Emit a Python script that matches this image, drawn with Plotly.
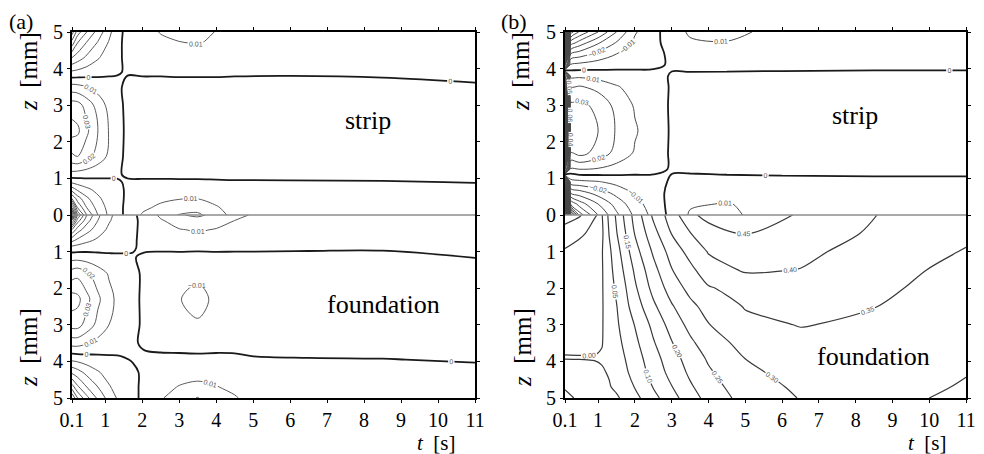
import plotly.graph_objects as go

# ---------------- data ----------------
# Panel (a) - strip (z from 0 to 5 mm)
A_S_T = [0.1, 0.25, 0.5, 0.8, 1.1, 1.3, 1.6, 2.0, 2.5, 3.0, 3.5, 4.0, 4.5, 6.0, 8.5, 11.0]
A_S_Z = [0, 0.2, 0.45, 0.7, 0.9, 1.1, 1.6, 2.3, 3.0, 3.5, 3.9, 4.3, 4.7, 5.0]
A_S_V = [
    [-0.14, -0.07, -0.04, -0.02, -0.008, -0.003, 0.002, 0.011, 0.016, 0.0205, 0.022, 0.014, 0.007, 0.003, 0.002, 0.002],
    [-0.09, -0.05, -0.03, -0.016, -0.007, -0.003, 0.002, 0.008, 0.012, 0.015, 0.016, 0.011, 0.006, 0.003, 0.002, 0.002],
    [-0.05, -0.035, -0.022, -0.012, -0.005, -0.002, 0.001, 0.005, 0.008, 0.0095, 0.0098, 0.007, 0.004, 0.002, 0.0015, 0.0015],
    [-0.025, -0.018, -0.012, -0.007, -0.003, -0.001, 0.0005, 0.002, 0.004, 0.004, 0.004, 0.003, 0.002, 0.0012, 0.001, 0.0008],
    [-0.008, -0.006, -0.004, -0.002, -0.001, -0.0003, 0.0003, 0.0006, 0.0008, 0.0008, 0.0008, 0.0006, 0.0004, 0.0003, 0.0002, -0.0001],
    [0.006, 0.005, 0.004, 0.002, 0.001, 0.0003, -0.0003, -0.0008, -0.001, -0.0012, -0.0012, -0.0012, -0.0011, -0.001, -0.001, -0.0012],
    [0.028, 0.03, 0.024, 0.016, 0.008, 0.003, -0.002, -0.003, -0.004, -0.005, -0.005, -0.005, -0.005, -0.004, -0.004, -0.004],
    [0.044, 0.042, 0.032, 0.02, 0.0095, 0.004, -0.002, -0.004, -0.005, -0.007, -0.0085, -0.007, -0.006, -0.005, -0.005, -0.005],
    [0.035, 0.034, 0.026, 0.016, 0.007, 0.003, -0.002, -0.003, -0.004, -0.005, -0.006, -0.005, -0.004, -0.004, -0.004, -0.004],
    [0.014, 0.013, 0.01, 0.006, 0.003, 0.001, -0.001, -0.0015, -0.002, -0.002, -0.002, -0.002, -0.002, -0.0015, -0.0012, -0.0005],
    [-0.008, -0.007, -0.005, -0.003, -0.0012, -0.0003, 0.0003, 0.0006, 0.0008, 0.001, 0.001, 0.001, 0.0008, 0.0005, 0.0007, 0.0012],
    [-0.03, -0.025, -0.018, -0.011, -0.005, -0.001, 0.001, 0.003, 0.005, 0.006, 0.006, 0.005, 0.004, 0.002, 0.002, 0.002],
    [-0.055, -0.04, -0.029, -0.019, -0.009, -0.002, 0.002, 0.005, 0.008, 0.0095, 0.0105, 0.0085, 0.006, 0.003, 0.002, 0.002],
    [-0.075, -0.055, -0.04, -0.026, -0.013, -0.004, 0.003, 0.006, 0.0105, 0.013, 0.014, 0.0095, 0.007, 0.004, 0.003, 0.003],
]

# Panel (a) - foundation (z from 0 down to -5 mm)
A_F_T = [0.1, 0.25, 0.5, 0.8, 1.1, 1.4, 1.75, 2.05, 2.5, 3.0, 3.5, 4.0, 4.5, 5.0, 6.5, 8.5, 11.0]
A_F_Z = [0, -0.15, -0.4, -0.7, -0.9, -1.15, -1.6, -2.3, -3.0, -3.5, -3.95, -4.3, -4.7, -5.0]
A_F_V = [
    [-0.14, -0.07, -0.04, -0.022, -0.012, -0.006, -0.0015, 0.003, 0.012, 0.019, 0.022, 0.017, 0.013, 0.009, 0.004, 0.002, 0.002],
    [-0.09, -0.055, -0.034, -0.02, -0.011, -0.005, -0.0015, 0.002, 0.009, 0.0145, 0.016, 0.0135, 0.01, 0.007, 0.003, 0.002, 0.0015],
    [-0.05, -0.035, -0.024, -0.015, -0.008, -0.004, -0.001, 0.0015, 0.006, 0.0095, 0.011, 0.0095, 0.007, 0.005, 0.002, 0.0015, 0.001],
    [-0.022, -0.017, -0.012, -0.008, -0.0045, -0.0025, -0.0005, 0.001, 0.003, 0.005, 0.006, 0.005, 0.004, 0.003, 0.0015, 0.001, 0.001],
    [-0.006, -0.005, -0.004, -0.003, -0.002, -0.0012, -0.0002, 0.0005, 0.001, 0.0015, 0.0015, 0.0015, 0.0012, 0.001, 0.0006, 0.0005, 0.0004],
    [0.006, 0.006, 0.005, 0.003, 0.0015, 0.0008, 0.0002, -0.0005, -0.0015, -0.002, -0.0025, -0.002, -0.0018, -0.0015, -0.0012, -0.0012, 0.0001],
    [0.025, 0.027, 0.022, 0.015, 0.009, 0.005, 0.0015, -0.001, -0.004, -0.0065, -0.009, -0.0075, -0.005, -0.004, -0.003, -0.003, -0.002],
    [0.045, 0.043, 0.033, 0.022, 0.013, 0.0065, 0.002, -0.0015, -0.006, -0.0098, -0.0115, -0.009, -0.007, -0.006, -0.005, -0.004, -0.004],
    [0.034, 0.034, 0.026, 0.017, 0.01, 0.005, 0.0015, -0.001, -0.005, -0.008, -0.0095, -0.008, -0.006, -0.005, -0.004, -0.004, -0.004],
    [0.014, 0.014, 0.011, 0.007, 0.004, 0.002, 0.0005, -0.0006, -0.002, -0.003, -0.0035, -0.003, -0.0025, -0.002, -0.0018, -0.0018, -0.002],
    [-0.008, -0.007, -0.005, -0.003, -0.0015, -0.0006, 0.0003, 0.0008, 0.0015, 0.002, 0.002, 0.002, 0.0015, 0.0005, 0.0002, 0.0001, -0.0003],
    [-0.028, -0.024, -0.017, -0.011, -0.006, -0.003, -0.0008, 0.0008, 0.004, 0.006, 0.007, 0.006, 0.004, 0.002, 0.001, 0.001, 0.001],
    [-0.055, -0.042, -0.03, -0.02, -0.011, -0.005, -0.0015, 0.0015, 0.007, 0.0105, 0.012, 0.0105, 0.0075, 0.0045, 0.002, 0.0015, 0.0015],
    [-0.08, -0.06, -0.043, -0.028, -0.016, -0.007, -0.002, 0.002, 0.009, 0.015, 0.0205, 0.014, 0.011, 0.006, 0.0025, 0.002, 0.002],
]

# Panel (b) - strip
B_S_T = [0.1, 0.25, 0.5, 1.0, 1.5, 2.0, 2.5, 3.0, 3.5, 4.5, 6.0, 8.5, 11.0]
B_S_Z = [0, 0.3, 0.6, 0.9, 1.25, 1.7, 2.3, 3.0, 3.5, 3.8, 4.1, 4.4, 4.7, 5.0]
B_S_V = [
    [-0.6, -0.13, -0.075, -0.05, -0.032, -0.018, -0.007, 0.003, 0.011, 0.012, 0.005, 0.005, 0.005],
    [-0.45, -0.07, -0.055, -0.04, -0.026, -0.014, -0.005, 0.003, 0.009, 0.0105, 0.006, 0.004, 0.004],
    [-0.3, -0.04, -0.035, -0.026, -0.017, -0.009, -0.003, 0.002, 0.006, 0.006, 0.004, 0.003, 0.003],
    [-0.15, -0.015, -0.013, -0.011, -0.007, -0.004, -0.0015, 0.0005, 0.002, 0.002, 0.0015, 0.0012, 0.0012],
    [0.1, 0.008, 0.01, 0.009, 0.006, 0.003, 0.001, -0.0003, -0.001, -0.0015, -0.0015, -0.0015, -0.0015],
    [0.25, 0.03, 0.034, 0.026, 0.017, 0.009, 0.004, -0.001, -0.003, -0.005, -0.005, -0.005, -0.005],
    [0.3, 0.038, 0.036, 0.03, 0.019, 0.011, 0.005, -0.001, -0.004, -0.006, -0.006, -0.006, -0.006],
    [0.25, 0.032, 0.033, 0.027, 0.017, 0.009, 0.004, -0.001, -0.003, -0.004, -0.004, -0.004, -0.004],
    [0.15, 0.02, 0.021, 0.017, 0.011, 0.006, 0.0025, -0.0005, -0.0015, -0.002, -0.002, -0.002, -0.002],
    [0.08, 0.008, 0.008, 0.006, 0.004, 0.002, 0.0008, -0.0002, -0.0006, -0.0008, -0.0008, -0.0008, -0.0008],
    [-0.08, -0.008, -0.007, -0.005, -0.003, -0.0015, -0.0005, 0.0003, 0.001, 0.0012, 0.001, 0.0008, 0.0008],
    [-0.2, -0.03, -0.025, -0.017, -0.01, -0.005, -0.0015, 0.001, 0.003, 0.0035, 0.003, 0.002, 0.002],
    [-0.35, -0.055, -0.045, -0.031, -0.019, -0.008, -0.002, 0.003, 0.0085, 0.0095, 0.006, 0.004, 0.004],
    [-0.5, -0.085, -0.068, -0.05, -0.03, -0.011, -0.003, 0.005, 0.0115, 0.0125, 0.007, 0.005, 0.005],
]

# Panel (b) - foundation
B_F_T = [0.1, 0.5, 0.9, 1.1, 1.3, 1.5, 1.75, 2.0, 2.5, 3.0, 3.5, 4.0, 5.0, 6.5, 8.5, 11.0]
B_F_Z = [0, -0.5, -1, -1.5, -2, -2.5, -3, -3.5, -3.9, -4.3, -4.7, -5]
B_F_V = [
    [0.08, 0.055, 0.002, -0.004, 0.062, 0.108, 0.165, 0.218, 0.309, 0.375, 0.44, 0.465, 0.48, 0.445, 0.401, 0.37],
    [0.02, 0.005, -0.008, -0.01, 0.052, 0.097, 0.15, 0.203, 0.282, 0.352, 0.398, 0.43, 0.451, 0.43, 0.393, 0.36],
    [-0.004, -0.012, -0.012, -0.004, 0.04, 0.08, 0.13, 0.18, 0.257, 0.32, 0.367, 0.403, 0.42, 0.41, 0.383, 0.347],
    [-0.015, -0.018, -0.015, -0.005, 0.035, 0.068, 0.113, 0.158, 0.234, 0.298, 0.337, 0.38, 0.405, 0.399, 0.37, 0.335],
    [-0.018, -0.02, -0.016, -0.005, 0.03, 0.058, 0.098, 0.142, 0.215, 0.272, 0.315, 0.345, 0.372, 0.382, 0.362, 0.325],
    [-0.018, -0.02, -0.016, -0.005, 0.026, 0.048, 0.087, 0.123, 0.19, 0.245, 0.287, 0.318, 0.353, 0.366, 0.351, 0.318],
    [-0.015, -0.017, -0.014, -0.004, 0.022, 0.042, 0.074, 0.102, 0.163, 0.22, 0.264, 0.298, 0.337, 0.352, 0.342, 0.31],
    [-0.008, -0.01, -0.009, -0.002, 0.017, 0.034, 0.062, 0.088, 0.145, 0.197, 0.24, 0.275, 0.317, 0.337, 0.333, 0.306],
    [0.002, 0.002, 0.002, 0.004, 0.014, 0.028, 0.052, 0.077, 0.13, 0.18, 0.222, 0.257, 0.301, 0.325, 0.325, 0.302],
    [-0.02, -0.015, -0.008, -0.004, 0.003, 0.02, 0.043, 0.068, 0.118, 0.167, 0.209, 0.243, 0.291, 0.316, 0.318, 0.301],
    [-0.045, -0.03, -0.014, -0.008, -0.003, 0.008, 0.03, 0.052, 0.102, 0.148, 0.193, 0.228, 0.279, 0.308, 0.31, 0.298],
    [-0.065, -0.04, -0.02, -0.012, -0.007, -0.006, 0.012, 0.035, 0.085, 0.13, 0.18, 0.215, 0.27, 0.302, 0.306, 0.296],
]

X_TICKS = [0.1, 1, 2, 3, 4, 5, 6, 7, 8, 9, 10, 11]
X_TICK_TEXT = ["0.1", "1", "2", "3", "4", "5", "6", "7", "8", "9", "10", "11"]
Y_TICKS = [-5, -4, -3, -2, -1, 0, 1, 2, 3, 4, 5]
Y_TICK_TEXT = ["5", "4", "3", "2", "1", "0", "1", "2", "3", "4", "5"]

# ---------------- figure ----------------
W, H = 984, 454
SERIF = "Liberation Serif"

fig = go.Figure()


def contour(t, z, v, xa, ya, start, end, step, color, width, fmt, labels=True):
    fig.add_trace(go.Contour(
        x=t, y=z, z=v, xaxis=xa, yaxis=ya,
        autocontour=False,
        colorscale=[[0, color], [1, color]],
        contours=dict(start=start, end=end, size=step, coloring="none",
                      showlabels=labels,
                      labelfont=dict(family="Liberation Sans", size=7, color="#555555"),
                      labelformat=fmt),
        line=dict(color=color, width=width, smoothing=1.0),
        showscale=False, hoverinfo="skip",
    ))


# panel (a)
for t, z, v in [(A_S_T, A_S_Z, A_S_V), (A_F_T, A_F_Z, A_F_V)]:
    contour(t, z, v, "x", "y", -0.15, -0.01, 0.01, "#5a5a5a", 1.0, ".2~f")
    contour(t, z, v, "x", "y", 0.01, 0.15, 0.01, "#5a5a5a", 1.0, ".2~f")
    contour(t, z, v, "x", "y", 0.0, 0.0, 0.01, "#1a1a1a", 1.8, ".2~f")

# panel (b)
contour(B_S_T, B_S_Z, B_S_V, "x2", "y2", -0.6, -0.01, 0.01, "#4a4a4a", 1.0, ".2f")
contour(B_S_T, B_S_Z, B_S_V, "x2", "y2", 0.01, 0.3, 0.01, "#4a4a4a", 1.0, ".2f")
contour(B_S_T, B_S_Z, B_S_V, "x2", "y2", 0.0, 0.0, 0.01, "#1a1a1a", 1.8, ".2~f")
contour(B_F_T, B_F_Z, B_F_V, "x2", "y2", -0.05, 0.45, 0.05, "#3a3a3a", 1.2, ".2f")


def px_x(p):
    return p / W


def px_y(p):
    return 1 - p / H


axis_common = dict(
    showgrid=False, zeroline=False, showline=True, linewidth=2, linecolor="black",
    mirror="ticks", ticks="outside", ticklen=3, tickwidth=1, tickcolor="black",
    tickfont=dict(family=SERIF, size=20, color="black"), automargin=False,
)
ydom = [px_y(398), px_y(32)]
fig.update_layout(
    width=W, height=H, autosize=False,
    margin=dict(l=0, r=0, t=0, b=0, pad=0, autoexpand=False),
    font=dict(family=SERIF, color="black"),
    paper_bgcolor="white", plot_bgcolor="white",
    showlegend=False,
    xaxis=dict(domain=[px_x(72), px_x(475)], range=[0.1, 11], tickmode="array",
               tickvals=X_TICKS, ticktext=X_TICK_TEXT, anchor="y", **axis_common),
    yaxis=dict(domain=ydom, range=[-5, 5], tickmode="array",
               tickvals=Y_TICKS, ticktext=Y_TICK_TEXT, anchor="x", **axis_common),
    xaxis2=dict(domain=[px_x(565), px_x(966)], range=[0.1, 11], tickmode="array",
                tickvals=X_TICKS, ticktext=X_TICK_TEXT, anchor="y2", **axis_common),
    yaxis2=dict(domain=ydom, range=[-5, 5], tickmode="array",
                tickvals=Y_TICKS, ticktext=Y_TICK_TEXT, anchor="x2", **axis_common),
)

# interface line z = 0
for xr, yr in [("x", "y"), ("x2", "y2")]:
    fig.add_shape(type="line", xref=xr, yref=yr, x0=0.1, x1=11, y0=0, y1=0,
                  line=dict(color="#8c8c8c", width=1.5), layer="above")

NB = "\u00a0"
ann = [
    ("(a)", 21, 21, 22, 0), ("(b)", 514, 21, 22, 0),
    ("<i>z</i>" + NB * 2 + "[mm]", 28, 72, 25, -90),
    ("<i>z</i>" + NB * 2 + "[mm]", 28, 348, 25, -90),
    ("<i>z</i>" + NB * 2 + "[mm]", 520, 72, 25, -90),
    ("<i>z</i>" + NB * 2 + "[mm]", 522, 348, 25, -90),
    ("<i>t</i>" + NB * 2 + "[s]", 436, 443, 21, 0),
    ("<i>t</i>" + NB * 2 + "[s]", 927, 443, 21, 0),
    ("strip", 368, 121, 26, 0), ("strip", 855, 115, 26, 0),
    ("foundation", 383, 304, 26, 0), ("foundation", 873, 356, 26, 0),
]
for text, x, y, size, rot in ann:
    fig.add_annotation(text=text, x=px_x(x), y=px_y(y), xref="paper", yref="paper",
                       xanchor="center", yanchor="middle", showarrow=False,
                       textangle=rot, borderpad=0,
                       font=dict(family=SERIF, size=size, color="black"))

fig.write_html("out.html")
